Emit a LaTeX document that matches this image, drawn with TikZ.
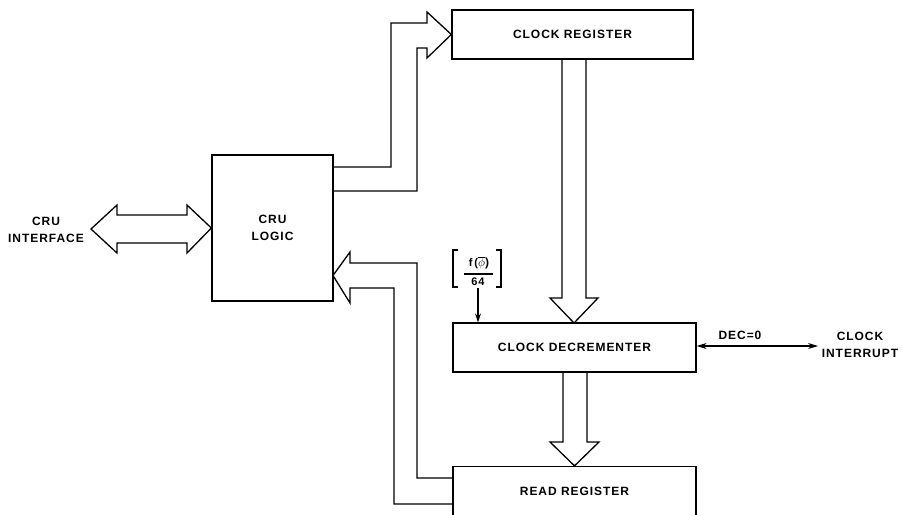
\documentclass[tikz,border=0pt]{standalone}
\usepackage{fontspec}
\setmainfont[LetterSpace=8]{Liberation Sans}
\usetikzlibrary{arrows.meta}
\begin{document}
\begin{tikzpicture}[x=1pt,y=-1pt,line width=1.3pt,line join=miter,
  box/.style={draw,minimum width=#1,minimum height=49pt,inner sep=0pt,
    font=\bfseries\fontsize{12}{17}\selectfont,align=center},
  txt/.style={inner sep=0pt,font=\bfseries\fontsize{12}{17}\selectfont,align=center},
  fsmall/.style={inner sep=0pt,font=\bfseries\fontsize{11}{12}\selectfont},
  fat/.style={draw,line width=1.3pt},
  thin/.style={line width=1.1pt}]
\useasboundingbox (0,0) rectangle (902,514);
% boxes
\node[box=121pt,minimum height=146pt] (logic) at (272.5,228) {CRU\\LOGIC};
\node[box=241pt] (clkreg) at (572.5,34.5) {CLOCK REGISTER};
\node[box=243pt] (dec) at (574.5,347.5) {CLOCK DECREMENTER};
\node[box=243pt] (read) at (574.5,491) {READ REGISTER};
% labels
\node[txt] (iface) at (46,229.5) {CRU\\INTERFACE};
\node[txt] (intr) at (860,345) {CLOCK\\INTERRUPT};
\node[txt] (declbl) at (740,335) {DEC=0};
\node[fsmall] (fnum) at (479,263) {f\,(\large$\overline{\phi}$)};
\node[fsmall] (fden) at (478,282) {64};
% fat arrow: CRU interface <-> logic
\draw[fat] (logic.west) -- (187,205) -- (187,215) -- (117,215) -- (117,205)
  -- (91,229) -- (117,253) -- (117,243) -- (187,243) -- (187,253) -- cycle;
% fat arrow: logic -> clock register
\coordinate (la) at (333,167);
\coordinate (lb) at (333,191);
\draw[fat] (la) -- (391,167) -- (391,23) -- (427,23) -- (427,12)
  -- (clkreg.west) -- (427,58) -- (427,48) -- (417,48) -- (417,191) -- (lb);
% fat arrow: clock register -> decrementer
\draw[fat] (562,59) -- (562,298) -- (550,298) -- (574,323) -- (598,298)
  -- (586,298) -- (586,59);
% fat arrow: decrementer -> read register
\draw[fat] (563,372) -- (563,442) -- (550,442) -- (read.north) -- (599,442)
  -- (587,442) -- (587,372);
% fat arrow: read register -> logic
\coordinate (ra) at (453,478);
\coordinate (rb) at (453,504);
\draw[fat] (ra) -- (417,478) -- (417,263) -- (350,263) -- (350,252)
  -- (333,275.5) -- (350,303) -- (350,288) -- (394,288) -- (394,504) -- (rb);
% f(phi)/64 bracket
\draw[thin] (464,274) -- (493,274);
\draw[thin] (458,250) -- (453,250) -- (453,287) -- (458,287);
\draw[thin] (496,250) -- (501,250) -- (501,287) -- (496,287);
\coordinate (fb) at (478,288);
\draw[thin,-{Stealth[length=9pt,width=6pt]}] (fb) -- (fb |- dec.north);
% DEC=0 line
\coordinate (intrend) at (818,346);
\draw[thin,{Stealth[length=10pt,width=6pt]}-{Stealth[length=10pt,width=6pt]}] (dec.east |- intrend) -- (intrend);
\end{tikzpicture}
\end{document}
